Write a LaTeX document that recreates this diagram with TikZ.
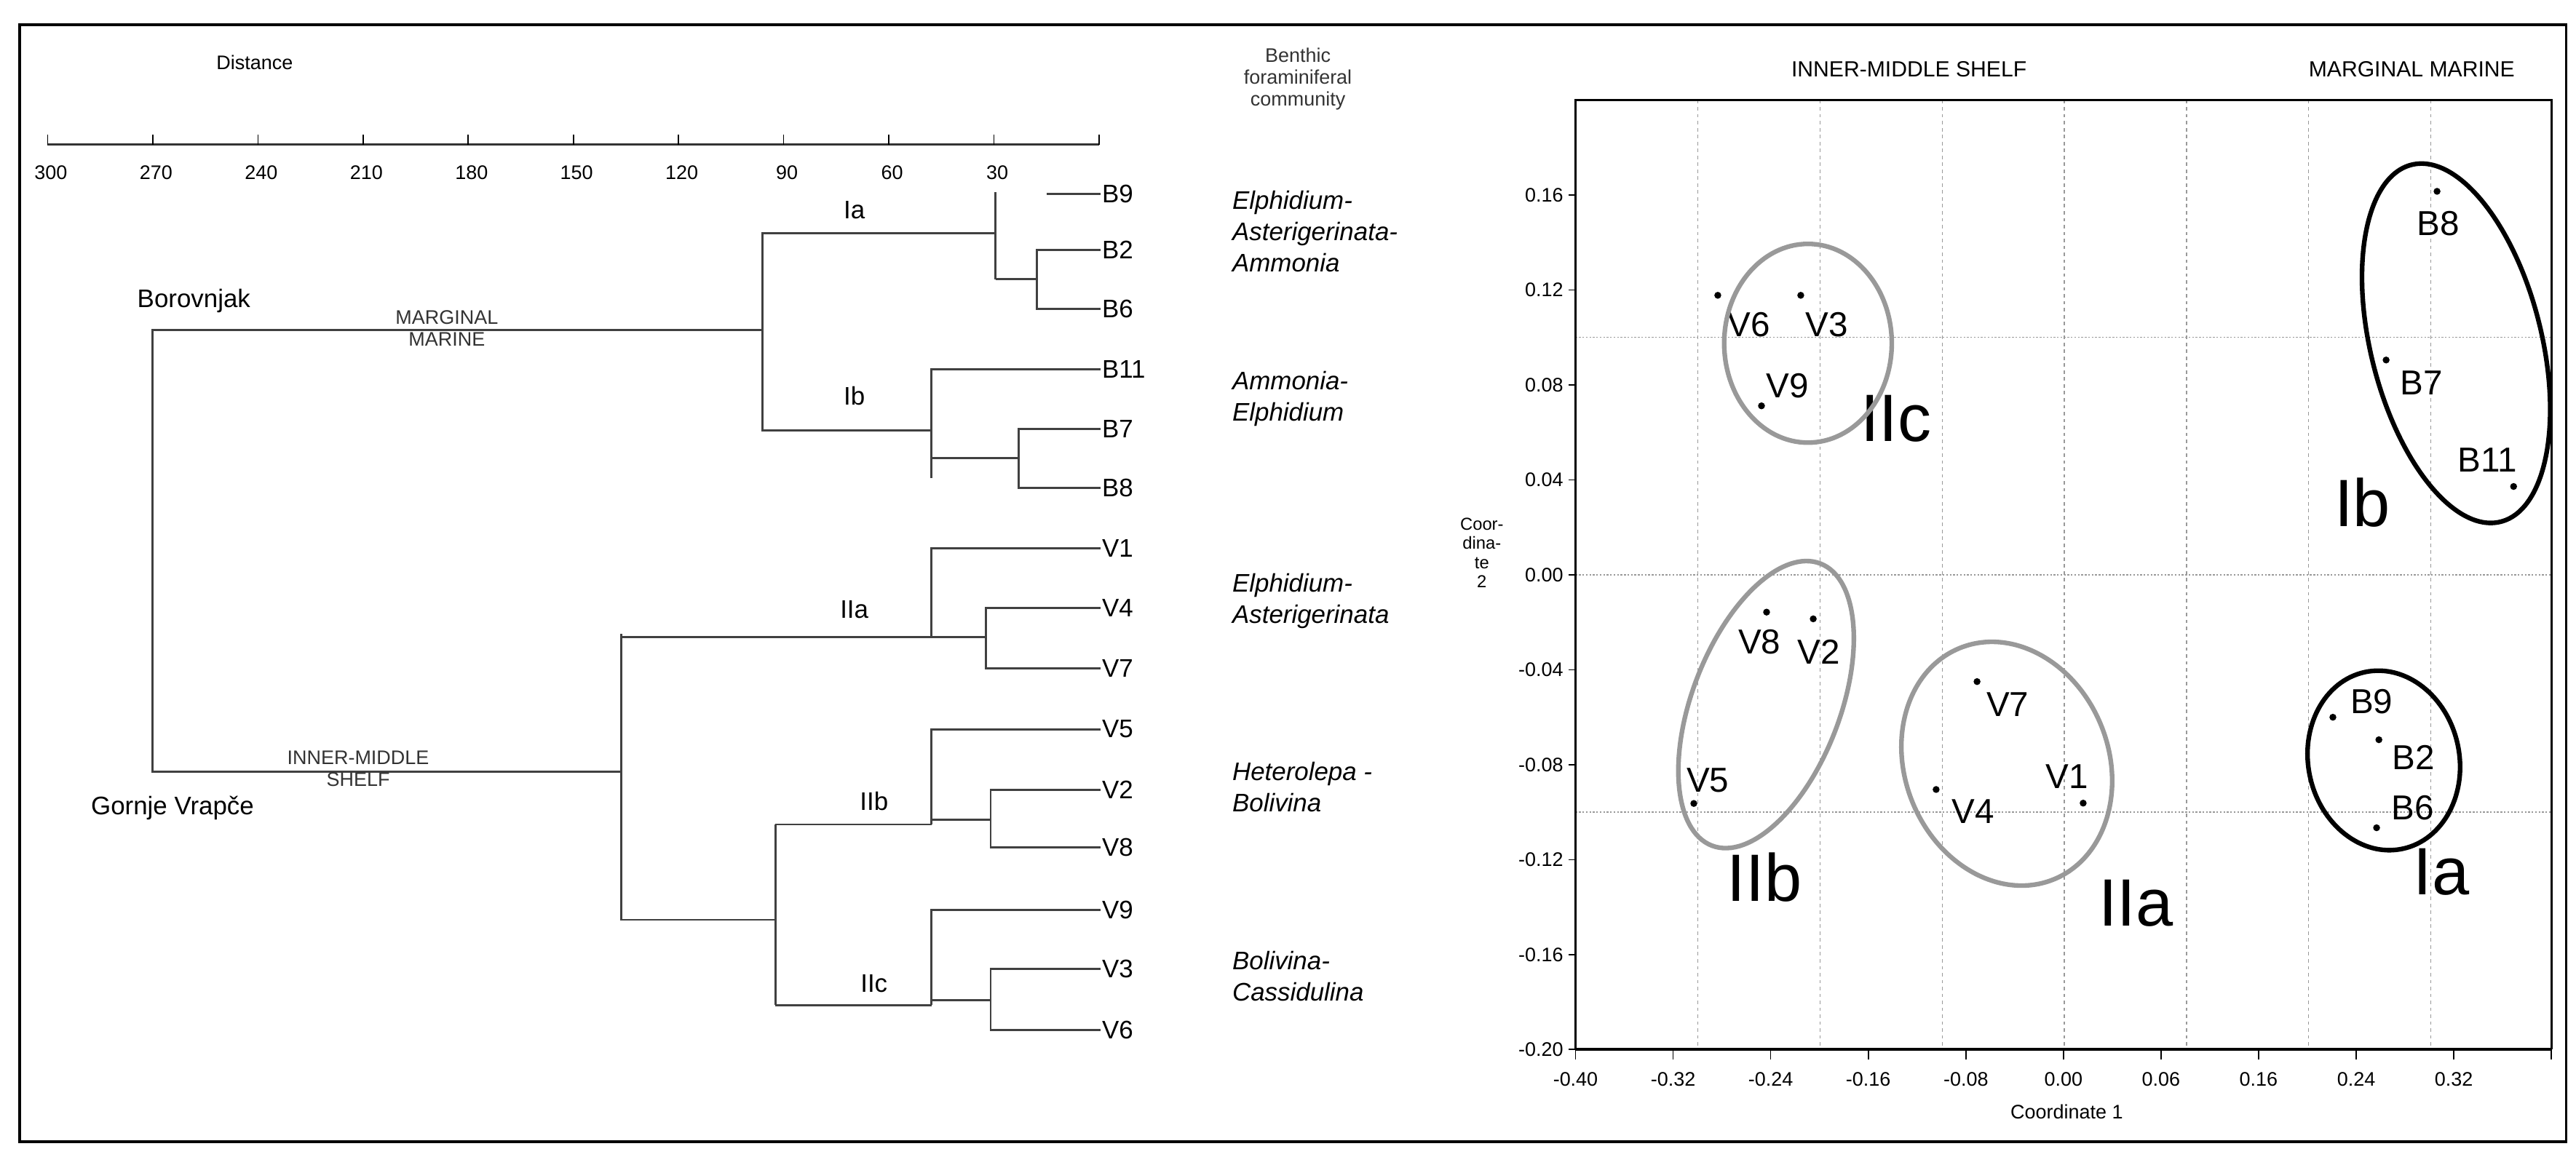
\documentclass[tikz,border=0pt]{standalone}
\usepackage{fontspec}
\setmainfont{Liberation Sans}
\begin{document}
\begin{tikzpicture}[x=0.05cm,y=0.05cm,
  den/.style={draw=black!75,line width=1.8pt},
  leaf/.style={font=\fontsize{22}{24}\selectfont,anchor=west,inner sep=1pt},
  com/.style={font=\fontsize{22}{27}\selectfont\itshape,anchor=north west,align=left,inner sep=0pt},
  tick/.style={font=\fontsize{17}{19}\selectfont},
  cl/.style={font=\fontsize{22}{24}\selectfont},
  small/.style={font=\fontsize{17}{19}\selectfont,text=black!80,align=center},
  pl/.style={font=\fontsize{30}{32}\selectfont,inner sep=0pt},
  big/.style={font=\fontsize{58}{60}\selectfont,inner sep=0pt},
  dot/.style={circle,fill=black,inner sep=0pt,minimum size=6pt},
  grayell/.style={draw=black!40,line width=4pt},
  blackell/.style={draw=black,line width=4pt},
  grid/.style={draw=black!40,line width=0.8pt,dash pattern=on 3pt off 3pt}]
\useasboundingbox (0,0) rectangle (1568,-709);
\draw[line width=2.5pt] (12,-15) rectangle (1562,-695);
% ---------- Distance axis
\node[tick] (dist) at (155,-38) {Distance};
\draw[line width=2pt,black!80] (29,-88) -- (669,-88);
\foreach \i/\v in {0/300,1/270,2/240,3/210,4/180,5/150,6/120,7/90,8/60,9/30,10/}{
  \draw[line width=1pt] (29+64*\i,-88) -- (29+64*\i,-82);
  \node[tick] at (31+64*\i,-105) {\v};}
\node[small,text=black!80] (hdr) at (790,-48) {Benthic\\foraminiferal\\community};
% ---------- leaves
\foreach \n/\y in {B9/118,B2/152,B6/188,B11/225,B7/261,B8/297,V1/334,V4/370,V7/407,V5/444,V2/481,V8/516,V9/554,V3/590,V6/627}{
  \node[leaf] (L\n) at (670,-\y) {\n};}
% ---------- dendrogram
\draw[den] (637,-118) -- (LB9.west);
\draw[den] (606,-117) -- (606,-170);
\draw[den] (LB2.west) -- (631,-152) -- (631,-188) -- (LB6.west);
\draw[den] (606,-170) -- (631,-170);
\draw[den] (606,-142) -- (464,-142) -- (464,-262) -- (567,-262);
\draw[den] (LB11.west) -- (567,-225) -- (567,-291);
\draw[den] (LB7.west) -- (620,-261) -- (620,-297) -- (LB8.west);
\draw[den] (567,-279) -- (620,-279);
\draw[den] (464,-201) -- (93,-201) -- (93,-470) -- (378,-470);
\draw[den] (378,-386) -- (378,-560) -- (472,-560);
\draw[den] (378,-388) -- (567,-388);
\draw[den] (LV1.west) -- (567,-334) -- (567,-388);
\draw[den] (LV4.west) -- (600,-370) -- (600,-407) -- (LV7.west);
\draw[den] (567,-388) -- (600,-388);
\draw[den] (472,-502) -- (472,-612);
\draw[den] (472,-502) -- (567,-502);
\draw[den] (LV5.west) -- (567,-444) -- (567,-502);
\draw[den] (LV2.west) -- (603,-481) -- (603,-516) -- (LV8.west);
\draw[den] (567,-499) -- (603,-499);
\draw[den] (472,-612) -- (567,-612);
\draw[den] (LV9.west) -- (567,-554) -- (567,-612);
\draw[den] (LV3.west) -- (603,-590) -- (603,-627) -- (LV6.west);
\draw[den] (567,-609) -- (603,-609);
\node[cl] (Ia) at (520,-128) {Ia};
\node[cl] (Ib) at (520,-241) {Ib};
\node[cl] (IIa) at (520,-371) {IIa};
\node[cl] (IIb) at (532,-488) {IIb};
\node[cl] (IIc) at (532,-599) {IIc};
\node[cl] (bor) at (118,-183) {Borovnjak};
\node[cl] (gor) at (105,-492) {Gornje Vrapče};
\node[small] (mm) at (272,-200) {MARGINAL\\MARINE};
\node[small] (ims) at (218,-468) {INNER-MIDDLE\\SHELF};
% ---------- communities
\node[com] (c1) at (750,-116) {Elphidium-\\Asterigerinata-\\Ammonia};
\node[com] (c2) at (750,-226) {Ammonia-\\Elphidium};
\node[com] (c3) at (750,-349) {Elphidium-\\Asterigerinata};
\node[com] (c4) at (750,-464) {Heterolepa -\\Bolivina};
\node[com] (c5) at (750,-579) {Bolivina-\\Cassidulina};
% ---------- ordination plot
\foreach \x in {1033.4,1107.8,1182.2,1256.5,1330.9,1405.2,1479.6}
  \draw[grid] (\x,-61) -- (\x,-639);
\foreach \y in {205.5,350,494.5}
  \draw[grid,dash pattern=on 1.5pt off 1.5pt] (959,-\y) -- (1553,-\y);
\draw[line width=2pt] (959,-639) -- (959,-61) -- (1553,-61) -- (1553,-639);
\draw[line width=2.5pt] (959,-639) -- (1553,-639);
\foreach \i/\v in {0/-0.40,1/-0.32,2/-0.24,3/-0.16,4/-0.08,5/0.00,6/0.06,7/0.16,8/0.24,9/0.32,10/}{
  \draw[line width=1pt] (959+59.4*\i,-639) -- (959+59.4*\i,-645);
  \node[tick] at (959+59.4*\i,-657) {\v};}
\foreach \v in {0.16,0.12,0.08,0.04,0.00,-0.04,-0.08,-0.12,-0.16,-0.20}{
  \pgfmathsetmacro\yy{350-1445*\v}
  \draw[line width=1pt] (955,-\yy) -- (959,-\yy);
  \node[tick,anchor=east] at (954,-\yy) {\v};}
\node[tick] (c1lab) at (1258,-677) {Coordinate 1};
\node[tick,align=center,font=\fontsize{15}{16.5}\selectfont,anchor=north] (c2lab) at (902,-313) {Coor-\\dina-\\te\\2};
\node[cl,font=\fontsize{19}{21}\selectfont] (ims2) at (1162,-42) {INNER-MIDDLE SHELF};
\node[cl,font=\fontsize{19}{21}\selectfont] (mm2) at (1468,-42) {MARGINAL MARINE};
% points
\foreach \n/\x/\y in {V6/1045.6/179.8,V3/1096.1/179.8,V9/1072.2/247.1,B8/1483.4/116.5,B7/1452.4/219.2,B11/1530/296.2,V8/1075.3/372.7,V2/1103.7/376.8,V5/1031/489.2,V7/1203.4/415,V4/1178.5/480.7,V1/1268/489,B9/1420/436.7,B2/1448/450.4,B6/1446.6/504}
  \node[dot] (P\n) at (\x,-\y) {};
\foreach \n/\x/\y in {V6/1064.7/197.5,V3/1112/197.5,V9/1088/235,B8/1484/136,B7/1474/233,B11/1514/280,V8/1071/391,V2/1107/397,V5/1039.5/475,V7/1222/429,V4/1201/494,V1/1258/473,B9/1443.6/427,B2/1469/461,B6/1468.5/492}
  \node[pl] (T\n) at (\x,-\y) {\n};
\node[big] (gIIc) at (1154,-255) {IIc};
\node[big] (gIb) at (1438,-306) {Ib};
\node[big] (gIIb) at (1074,-534) {IIb};
\node[big] (gIIa) at (1300,-550) {IIa};
\node[big] (gIa) at (1486,-531) {Ia};
% ellipses
\draw[grayell] (1100.5,-209) ellipse [x radius=51,y radius=60.5];
\draw[blackell,rotate around={14:(1495,-209)}] (1495,-209) ellipse [x radius=52,y radius=112];
\draw[grayell,rotate around={-21:(1075,-429)}] (1075,-429) ellipse [x radius=45,y radius=92];
\draw[grayell,rotate around={22:(1221.5,-465)}] (1221.5,-465) ellipse [x radius=62,y radius=76];
\draw[blackell,rotate around={12:(1451,-463)}] (1451,-463) ellipse [x radius=46,y radius=55];
\end{tikzpicture}
\end{document}
